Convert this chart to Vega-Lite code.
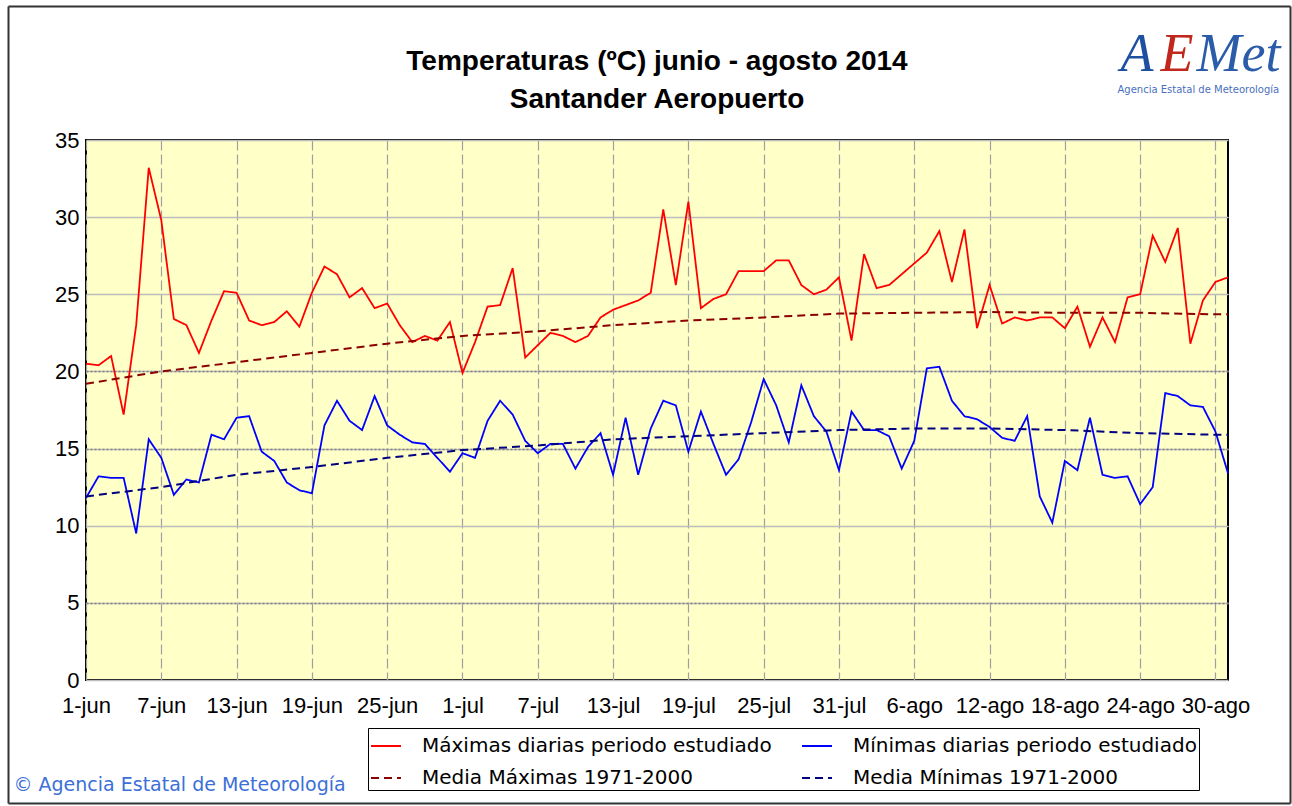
{
  "$schema": "https://vega.github.io/schema/vega-lite/v6.json",
  "width": 1142,
  "height": 540,
  "autosize": {"type": "none"},
  "padding": {"left": 86, "top": 140, "right": 64, "bottom": 126},
  "background": "#FFFFFF",
  "config": {
    "view": {"fill": "#FFFFC8", "stroke": "#000000", "strokeWidth": 2},
    "font": "Liberation Sans"
  },
  "title": {
    "text": ["Temperaturas (ºC) junio - agosto 2014", "Santander Aeropuerto"],
    "font": "Liberation Sans",
    "fontSize": 28,
    "fontWeight": "bold",
    "color": "#000000",
    "lineHeight": 38,
    "anchor": "middle",
    "offset": -108
  },
  "datasets": {
    "diarias": [
      {"fecha": "2014-06-01", "max": 20.5, "min": 11.8},
      {"fecha": "2014-06-02", "max": 20.4, "min": 13.2},
      {"fecha": "2014-06-03", "max": 21.0, "min": 13.1},
      {"fecha": "2014-06-04", "max": 17.2, "min": 13.1},
      {"fecha": "2014-06-05", "max": 23.0, "min": 9.5},
      {"fecha": "2014-06-06", "max": 33.2, "min": 15.6},
      {"fecha": "2014-06-07", "max": 29.8, "min": 14.4},
      {"fecha": "2014-06-08", "max": 23.4, "min": 12.0},
      {"fecha": "2014-06-09", "max": 23.0, "min": 13.0},
      {"fecha": "2014-06-10", "max": 21.2, "min": 12.8},
      {"fecha": "2014-06-11", "max": 23.3, "min": 15.9},
      {"fecha": "2014-06-12", "max": 25.2, "min": 15.6},
      {"fecha": "2014-06-13", "max": 25.1, "min": 17.0},
      {"fecha": "2014-06-14", "max": 23.3, "min": 17.1},
      {"fecha": "2014-06-15", "max": 23.0, "min": 14.8},
      {"fecha": "2014-06-16", "max": 23.2, "min": 14.2},
      {"fecha": "2014-06-17", "max": 23.9, "min": 12.8},
      {"fecha": "2014-06-18", "max": 22.9, "min": 12.3},
      {"fecha": "2014-06-19", "max": 25.1, "min": 12.1},
      {"fecha": "2014-06-20", "max": 26.8, "min": 16.5},
      {"fecha": "2014-06-21", "max": 26.3, "min": 18.1},
      {"fecha": "2014-06-22", "max": 24.8, "min": 16.8},
      {"fecha": "2014-06-23", "max": 25.4, "min": 16.2},
      {"fecha": "2014-06-24", "max": 24.1, "min": 18.4},
      {"fecha": "2014-06-25", "max": 24.4, "min": 16.5},
      {"fecha": "2014-06-26", "max": 23.0, "min": 15.9},
      {"fecha": "2014-06-27", "max": 21.9, "min": 15.4},
      {"fecha": "2014-06-28", "max": 22.3, "min": 15.3},
      {"fecha": "2014-06-29", "max": 22.0, "min": 14.4},
      {"fecha": "2014-06-30", "max": 23.2, "min": 13.5},
      {"fecha": "2014-07-01", "max": 19.9, "min": 14.7},
      {"fecha": "2014-07-02", "max": 21.9, "min": 14.4},
      {"fecha": "2014-07-03", "max": 24.2, "min": 16.8},
      {"fecha": "2014-07-04", "max": 24.3, "min": 18.1},
      {"fecha": "2014-07-05", "max": 26.7, "min": 17.2},
      {"fecha": "2014-07-06", "max": 20.9, "min": 15.5},
      {"fecha": "2014-07-07", "max": 21.7, "min": 14.7},
      {"fecha": "2014-07-08", "max": 22.5, "min": 15.3},
      {"fecha": "2014-07-09", "max": 22.3, "min": 15.3},
      {"fecha": "2014-07-10", "max": 21.9, "min": 13.7},
      {"fecha": "2014-07-11", "max": 22.3, "min": 15.1},
      {"fecha": "2014-07-12", "max": 23.5, "min": 16.0},
      {"fecha": "2014-07-13", "max": 24.0, "min": 13.3},
      {"fecha": "2014-07-14", "max": 24.3, "min": 17.0},
      {"fecha": "2014-07-15", "max": 24.6, "min": 13.3},
      {"fecha": "2014-07-16", "max": 25.1, "min": 16.3},
      {"fecha": "2014-07-17", "max": 30.5, "min": 18.1},
      {"fecha": "2014-07-18", "max": 25.6, "min": 17.8},
      {"fecha": "2014-07-19", "max": 31.0, "min": 14.8},
      {"fecha": "2014-07-20", "max": 24.1, "min": 17.4},
      {"fecha": "2014-07-21", "max": 24.7, "min": 15.3},
      {"fecha": "2014-07-22", "max": 25.0, "min": 13.3},
      {"fecha": "2014-07-23", "max": 26.5, "min": 14.3},
      {"fecha": "2014-07-24", "max": 26.5, "min": 16.7},
      {"fecha": "2014-07-25", "max": 26.5, "min": 19.5},
      {"fecha": "2014-07-26", "max": 27.2, "min": 17.8},
      {"fecha": "2014-07-27", "max": 27.2, "min": 15.4},
      {"fecha": "2014-07-28", "max": 25.6, "min": 19.1},
      {"fecha": "2014-07-29", "max": 25.0, "min": 17.1},
      {"fecha": "2014-07-30", "max": 25.3, "min": 16.1},
      {"fecha": "2014-07-31", "max": 26.1, "min": 13.6},
      {"fecha": "2014-08-01", "max": 22.0, "min": 17.4},
      {"fecha": "2014-08-02", "max": 27.6, "min": 16.2},
      {"fecha": "2014-08-03", "max": 25.4, "min": 16.2},
      {"fecha": "2014-08-04", "max": 25.6, "min": 15.8},
      {"fecha": "2014-08-05", "max": 26.3, "min": 13.7},
      {"fecha": "2014-08-06", "max": 27.0, "min": 15.5},
      {"fecha": "2014-08-07", "max": 27.7, "min": 20.2},
      {"fecha": "2014-08-08", "max": 29.1, "min": 20.3},
      {"fecha": "2014-08-09", "max": 25.8, "min": 18.1},
      {"fecha": "2014-08-10", "max": 29.2, "min": 17.1},
      {"fecha": "2014-08-11", "max": 22.8, "min": 16.9},
      {"fecha": "2014-08-12", "max": 25.6, "min": 16.4},
      {"fecha": "2014-08-13", "max": 23.1, "min": 15.7},
      {"fecha": "2014-08-14", "max": 23.5, "min": 15.5},
      {"fecha": "2014-08-15", "max": 23.3, "min": 17.1},
      {"fecha": "2014-08-16", "max": 23.5, "min": 11.9},
      {"fecha": "2014-08-17", "max": 23.5, "min": 10.2},
      {"fecha": "2014-08-18", "max": 22.8, "min": 14.2},
      {"fecha": "2014-08-19", "max": 24.2, "min": 13.6},
      {"fecha": "2014-08-20", "max": 21.6, "min": 17.0},
      {"fecha": "2014-08-21", "max": 23.5, "min": 13.3},
      {"fecha": "2014-08-22", "max": 21.9, "min": 13.1},
      {"fecha": "2014-08-23", "max": 24.8, "min": 13.2},
      {"fecha": "2014-08-24", "max": 25.0, "min": 11.4},
      {"fecha": "2014-08-25", "max": 28.8, "min": 12.5},
      {"fecha": "2014-08-26", "max": 27.1, "min": 18.6},
      {"fecha": "2014-08-27", "max": 29.3, "min": 18.4},
      {"fecha": "2014-08-28", "max": 21.8, "min": 17.8},
      {"fecha": "2014-08-29", "max": 24.6, "min": 17.7},
      {"fecha": "2014-08-30", "max": 25.8, "min": 16.1},
      {"fecha": "2014-08-31", "max": 26.1, "min": 13.4}
    ],
    "medias": [
      {"fecha": "2014-06-01", "mmax": 19.2, "mmin": 11.9},
      {"fecha": "2014-06-07", "mmax": 20.0, "mmin": 12.5},
      {"fecha": "2014-06-13", "mmax": 20.6, "mmin": 13.3},
      {"fecha": "2014-06-19", "mmax": 21.2, "mmin": 13.8},
      {"fecha": "2014-06-25", "mmax": 21.8, "mmin": 14.4},
      {"fecha": "2014-07-01", "mmax": 22.3, "mmin": 14.9},
      {"fecha": "2014-07-07", "mmax": 22.6, "mmin": 15.2},
      {"fecha": "2014-07-13", "mmax": 23.0, "mmin": 15.6},
      {"fecha": "2014-07-19", "mmax": 23.3, "mmin": 15.8},
      {"fecha": "2014-07-25", "mmax": 23.5, "mmin": 16.0},
      {"fecha": "2014-07-31", "mmax": 23.75, "mmin": 16.2},
      {"fecha": "2014-08-06", "mmax": 23.8, "mmin": 16.3},
      {"fecha": "2014-08-12", "mmax": 23.85, "mmin": 16.3},
      {"fecha": "2014-08-18", "mmax": 23.8, "mmin": 16.2},
      {"fecha": "2014-08-24", "mmax": 23.8, "mmin": 16.0},
      {"fecha": "2014-08-30", "mmax": 23.7, "mmin": 15.9},
      {"fecha": "2014-08-31", "mmax": 23.7, "mmin": 15.9}
    ]
  },
  "layer": [
    {
      "data": {"name": "diarias"},
      "transform": [{"fold": ["max", "min"], "as": ["serie", "temp"]}],
      "mark": {"type": "line", "strokeWidth": 1.8},
      "encoding": {
        "x": {
          "field": "fecha", "type": "temporal",
          "scale": {"type": "utc", "domain": [{"year": 2014, "month": 6, "date": 1, "utc": true}, {"year": 2014, "month": 8, "date": 31, "utc": true}]},
          "axis": {
            "values": [
              {"year": 2014, "month": 6, "date": 1, "utc": true},
              {"year": 2014, "month": 6, "date": 7, "utc": true},
              {"year": 2014, "month": 6, "date": 13, "utc": true},
              {"year": 2014, "month": 6, "date": 19, "utc": true},
              {"year": 2014, "month": 6, "date": 25, "utc": true},
              {"year": 2014, "month": 7, "date": 1, "utc": true},
              {"year": 2014, "month": 7, "date": 7, "utc": true},
              {"year": 2014, "month": 7, "date": 13, "utc": true},
              {"year": 2014, "month": 7, "date": 19, "utc": true},
              {"year": 2014, "month": 7, "date": 25, "utc": true},
              {"year": 2014, "month": 7, "date": 31, "utc": true},
              {"year": 2014, "month": 8, "date": 6, "utc": true},
              {"year": 2014, "month": 8, "date": 12, "utc": true},
              {"year": 2014, "month": 8, "date": 18, "utc": true},
              {"year": 2014, "month": 8, "date": 24, "utc": true},
              {"year": 2014, "month": 8, "date": 30, "utc": true}
            ],
            "labelExpr": "utcdate(datum.value) + '-' + ['jun','jul','ago'][utcmonth(datum.value) - 5]",
            "labelFont": "Liberation Sans", "labelFontSize": 22, "labelColor": "#000000",
            "labelPadding": 15, "labelOverlap": false, "labelFlush": false,
            "ticks": false, "tickSize": 0, "domain": false,
            "grid": true, "gridColor": "#A0A0A0", "gridDash": [10, 4], "gridWidth": 1.2,
            "title": "© Agencia Estatal de Meteorología",
            "titleFont": "DejaVu Sans", "titleFontSize": 19, "titleFontWeight": "normal", "titleColor": "#3C6FD8",
            "titleX": -73, "titleY": 104, "titleAlign": "left", "titleBaseline": "middle", "titleAnchor": "start"
          }
        },
        "y": {
          "field": "temp", "type": "quantitative",
          "scale": {"domain": [0, 35], "nice": false, "zero": false},
          "axis": {
            "values": [0, 5, 10, 15, 20, 25, 30, 35],
            "labelFont": "Liberation Sans", "labelFontSize": 22, "labelColor": "#000000",
            "labelPadding": 7, "ticks": false, "tickSize": 0, "domain": false,
            "grid": true, "gridColor": "#BDBDBD", "gridWidth": 1.5,
            "title": "A",
            "titleFont": "Liberation Serif", "titleFontSize": 54, "titleFontStyle": "italic", "titleFontWeight": "normal",
            "titleColor": "#1E50A0", "titleAngle": 0, "titleX": 1034, "titleY": -70,
            "titleAlign": "left", "titleBaseline": "alphabetic"
          }
        },
        "color": {
          "field": "serie", "type": "nominal",
          "scale": {"domain": ["max", "min", "mmax", "mmin"], "range": ["#FF0000", "#0000FF", "#8B0000", "#000080"]},
          "legend": {
            "orient": "none", "legendX": 282, "legendY": 588, "columns": 2, "direction": "horizontal", "title": null,
            "symbolType": "stroke", "symbolSize": 900, "symbolStrokeWidth": 2,
            "labelFont": "DejaVu Sans", "labelFontSize": 20, "labelColor": "#000000", "labelLimit": 0,
            "labelOffset": 20, "columnPadding": 26, "rowPadding": 6, "padding": 2,
            "strokeColor": "#000000", "fillColor": "#FFFFFF",
            "labelExpr": "datum.value == 'max' ? 'Máximas diarias periodo estudiado' : datum.value == 'min' ? 'Mínimas diarias periodo estudiado\u00a0\u00a0\u00a0\u00a0\u00a0' : datum.value == 'mmax' ? 'Media Máximas 1971-2000' : 'Media Mínimas 1971-2000'"
          }
        },
        "strokeDash": {
          "field": "serie", "type": "nominal",
          "scale": {"domain": ["max", "min", "mmax", "mmin"], "range": [[1, 0], [1, 0], [8, 5], [8, 5]]},
          "legend": {
            "orient": "none", "legendX": 282, "legendY": 588, "columns": 2, "direction": "horizontal", "title": null,
            "symbolType": "stroke", "symbolSize": 900, "symbolStrokeWidth": 2,
            "labelFont": "DejaVu Sans", "labelFontSize": 20, "labelColor": "#000000", "labelLimit": 0,
            "labelOffset": 20, "columnPadding": 26, "rowPadding": 6, "padding": 2,
            "strokeColor": "#000000", "fillColor": "#FFFFFF",
            "labelExpr": "datum.value == 'max' ? 'Máximas diarias periodo estudiado' : datum.value == 'min' ? 'Mínimas diarias periodo estudiado\u00a0\u00a0\u00a0\u00a0\u00a0' : datum.value == 'mmax' ? 'Media Máximas 1971-2000' : 'Media Mínimas 1971-2000'"
          }
        }
      }
    },
    {
      "data": {"name": "medias"},
      "transform": [{"fold": ["mmax", "mmin"], "as": ["serie", "temp"]}],
      "mark": {"type": "line", "strokeWidth": 2},
      "encoding": {
        "x": {
          "field": "fecha", "type": "temporal",
          "scale": {"type": "utc", "domain": [{"year": 2014, "month": 6, "date": 1, "utc": true}, {"year": 2014, "month": 8, "date": 31, "utc": true}]},
          "axis": {
            "orient": "top", "domain": false, "labels": false, "ticks": false, "grid": false,
            "title": "Met",
            "titleFont": "Liberation Serif", "titleFontSize": 54, "titleFontStyle": "italic", "titleFontWeight": "normal",
            "titleColor": "#2A5CAA", "titleX": 1110, "titleY": -70, "titleAlign": "left", "titleBaseline": "alphabetic", "titleAngle": 0
          }
        },
        "y": {
          "field": "temp", "type": "quantitative",
          "scale": {"domain": [0, 35], "nice": false, "zero": false},
          "axis": {
            "orient": "right", "domain": false, "labels": false, "ticks": false,
            "values": [5, 15, 20],
            "grid": true, "gridColor": "#808080", "gridDash": [2, 2], "gridWidth": 1.5,
            "title": "E",
            "titleFont": "Liberation Serif", "titleFontSize": 54, "titleFontStyle": "italic", "titleFontWeight": "normal",
            "titleColor": "#C0281E", "titleX": -68, "titleY": -70, "titleAlign": "left", "titleBaseline": "alphabetic", "titleAngle": 0
          }
        },
        "color": {"field": "serie", "type": "nominal", "scale": {"domain": ["max", "min", "mmax", "mmin"], "range": ["#FF0000", "#0000FF", "#8B0000", "#000080"]}},
        "strokeDash": {"field": "serie", "type": "nominal", "scale": {"domain": ["max", "min", "mmax", "mmin"], "range": [[1, 0], [1, 0], [8, 5], [8, 5]]}}
      }
    },
    {
      "data": {"name": "diarias"},
      "mark": {"type": "point", "opacity": 0},
      "encoding": {
        "x": {
          "field": "fecha", "type": "temporal",
          "scale": {"type": "utc", "domain": [{"year": 2014, "month": 6, "date": 1, "utc": true}, {"year": 2014, "month": 8, "date": 31, "utc": true}], "range": [-78, 1204]},
          "axis": {
            "orient": "bottom", "offset": 123, "domain": true, "domainColor": "#333333", "domainWidth": 2,
            "labels": false, "ticks": false, "grid": false,
            "title": "Agencia Estatal de Meteorología",
            "titleFont": "DejaVu Sans", "titleFontSize": 10, "titleFontWeight": "normal", "titleColor": "#4A6FC0",
            "titleX": 1031, "titleY": -714, "titleAlign": "left", "titleBaseline": "middle", "titleAnchor": "start"
          }
        },
        "y": {
          "field": "max", "type": "quantitative",
          "scale": {"domain": [0, 35], "nice": false, "zero": false, "range": [663, -134]},
          "axis": {"orient": "left", "offset": 78, "domain": true, "domainColor": "#333333", "domainWidth": 2, "labels": false, "ticks": false, "grid": false, "title": null}
        }
      }
    },
    {
      "data": {"name": "diarias"},
      "mark": {"type": "point", "opacity": 0},
      "encoding": {
        "x": {
          "field": "fecha", "type": "temporal",
          "scale": {"type": "utc", "domain": [{"year": 2014, "month": 6, "date": 1, "utc": true}, {"year": 2014, "month": 8, "date": 31, "utc": true}], "range": [-78, 1204]},
          "axis": {"orient": "top", "offset": 134, "domain": true, "domainColor": "#333333", "domainWidth": 2, "labels": false, "ticks": false, "grid": false, "title": null}
        },
        "y": {
          "field": "min", "type": "quantitative",
          "scale": {"domain": [0, 35], "nice": false, "zero": false, "range": [663, -134]},
          "axis": {"orient": "right", "offset": 62, "domain": true, "domainColor": "#333333", "domainWidth": 2, "labels": false, "ticks": false, "grid": false, "title": null}
        }
      }
    }
  ],
  "resolve": {"scale": {"x": "independent", "y": "independent"}, "axis": {"x": "independent", "y": "independent"}}
}
